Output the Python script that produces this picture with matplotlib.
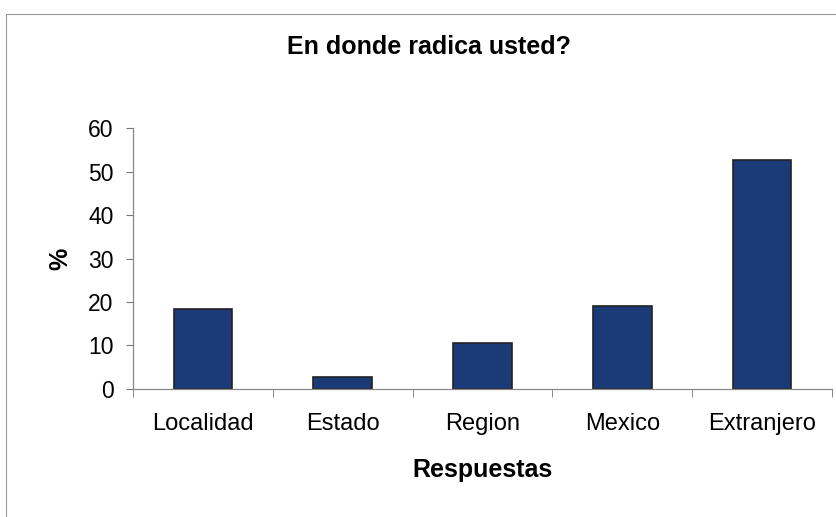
import matplotlib
matplotlib.use("Agg")
import matplotlib.pyplot as plt
from matplotlib.patches import Rectangle
import numpy as np

plt.rcParams["font.family"] = ["Liberation Sans", "DejaVu Sans"]

categories = ["Localidad", "Estado", "Region", "Mexico", "Extranjero"]
values = [18.4, 2.7, 10.6, 19.1, 52.6]
yticks = [0, 10, 20, 30, 40, 50, 60]

fig = plt.figure(figsize=(8.37, 5.17), dpi=100)
ax = fig.add_axes([0.159, 0.2476, 0.835, 0.5048])

x = np.arange(len(categories))
ax.bar(x, values, width=0.42, color="#1a3a78", edgecolor="#222222", linewidth=1.2)

ax.set_xlim(-0.5, len(categories) - 0.5)
ax.set_ylim(0, 60)
ax.set_yticks(yticks)
ax.set_xticks(x)
ax.set_xticklabels(categories, fontsize=17)
ax.set_xticks(np.arange(len(categories) + 1) - 0.5, minor=True)
ax.tick_params(axis="x", which="major", length=0, pad=17)
ax.tick_params(axis="x", which="minor", length=6, color="#777777", direction="out")
ax.tick_params(axis="y", labelsize=16.5, length=5, color="#777777", pad=9)

for side in ["top", "right"]:
    ax.spines[side].set_visible(False)
for side in ["left", "bottom"]:
    ax.spines[side].set_color("#888888")
    ax.spines[side].set_linewidth(0.9)

ax.set_xlabel("Respuestas", fontsize=18, fontweight="bold", labelpad=17)
ax.set_ylabel("%", fontsize=18, fontweight="bold", labelpad=11)

fig.text(0.513, 0.91, "En donde radica usted?", ha="center", va="center",
         fontsize=18, fontweight="bold")

# thin outer border of the chart area
fig.patches.append(Rectangle((0.007, -0.01), 1.0, 0.983, transform=fig.transFigure,
                             fill=False, edgecolor="#999999", linewidth=0.8))

fig.savefig("out.png", dpi=100)
